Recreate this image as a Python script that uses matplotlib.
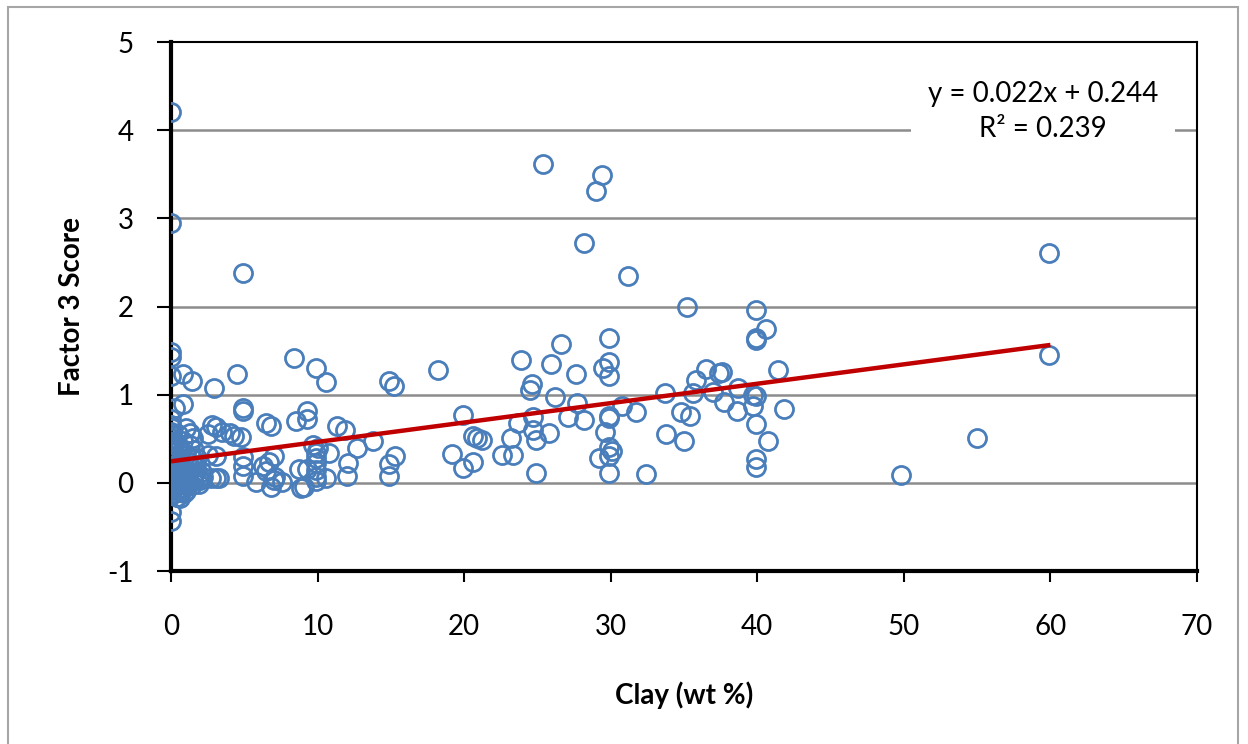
import matplotlib.pyplot as plt
from matplotlib.patches import Rectangle

plt.rcParams['font.family'] = ['Lato', 'DejaVu Sans']
plt.rcParams['axes.unicode_minus'] = False

# clay content (wt %) and factor 3 score for each sample
clay_wt = [
    # samples with little or no clay
    0.0, 0.0, 0.0, 0.0, 0.0, 0.8, 1.4, 2.9, 4.5, 4.9,
    0.3, 0.8, 0.0, 0.0, 0.0, 0.0, 0.0, 0.0, 0.0, 0.0,
    0.0, 0.0, 0.0, 0.0, 0.0, 0.0, 0.0, 0.0, 0.1, 0.1,
    0.1, 1.0, 1.3, 1.5, 1.3, 1.6, 0.5, 0.6, 0.4, 0.7,
    0.3, 0.9, 1.2, 0.5, 0.8, 1.5, 1.9, 0.4, 0.6, 0.9,
    0.3, 1.1, 1.7, 2.1, 1.4, 0.2, 0.6, 1.0, 0.2, 1.8,
    2.2, 2.7, 3.1, 3.3, 0.4, 0.6, 0.2, 0.5, 1.0, 0.7,
    0.2, 0.4, 0.7, 1.1, 1.3, 1.6, 1.9, 0.9, 1.2, 0.3,
    0.5, 0.8, 1.4, 1.7, 2.0, 0.1, 0.6, 1.0, 0.4, 0.2,
    # 2 - 16 wt %
    2.8, 3.1, 3.5, 4.0, 4.3, 4.8, 2.5, 2.5, 3.1, 4.9,
    4.9, 4.9, 4.9, 4.9, 6.5, 6.8, 8.5, 9.3, 9.3, 11.3,
    11.9, 6.3, 6.5, 7.0, 6.8, 7.6, 7.0, 6.7, 8.7, 9.3,
    8.9, 9.1, 9.7, 10.0, 9.9, 9.9, 9.9, 9.9, 9.9, 9.9,
    10.6, 10.8, 12.1, 12.0, 12.7, 13.8, 8.4, 9.9, 10.6, 14.9,
    15.2, 15.3, 14.9, 14.9, 7.1, 5.8,
    # 18 - 34 wt %
    18.2, 19.2, 19.9, 19.9, 20.6, 20.6, 20.9, 21.2, 22.6, 23.3,
    23.2, 23.7, 23.9, 24.6, 24.5, 24.7, 24.7, 24.9, 25.8, 24.9,
    25.4, 25.9, 26.2, 26.6, 27.1, 27.6, 27.7, 28.2, 28.2, 29.0,
    29.4, 29.2, 29.5, 29.6, 29.9, 29.9, 29.9, 29.9, 29.9, 29.9,
    30.1, 29.9, 29.9, 30.8, 31.2, 31.7, 32.4, 33.7, 33.8,
    # 34 wt % and above
    34.8, 35.2, 35.4, 35.0, 35.6, 35.8, 36.5, 37.0, 37.4, 37.6,
    37.7, 38.6, 38.7, 39.7, 39.7, 39.9, 39.9, 39.9, 39.9, 39.9,
    39.9, 39.9, 40.6, 40.7, 41.4, 41.8, 49.8, 55.0, 59.9, 59.9,
]

factor3_score = [
    4.21, 2.95, 1.48, 1.43, 1.21, 1.23, 1.16, 1.08, 1.23, 2.38,
    0.85, 0.89, 0.72, 0.66, 0.58, 0.51, 0.44, 0.38, 0.31, 0.24,
    0.17, 0.11, 0.05, -0.02, -0.08, -0.14, -0.33, -0.43, 0.62, 0.46,
    0.12, 0.62, 0.57, 0.51, 0.43, 0.37, 0.55, 0.40, 0.30, 0.22,
    0.18, 0.15, 0.10, 0.08, 0.04, 0.02, 0.05, -0.04, -0.10, -0.06,
    -0.12, 0.25, 0.20, 0.12, -0.02, 0.03, 0.14, 0.32, 0.35, 0.28,
    0.07, 0.06, 0.06, 0.06, -0.16, -0.17, -0.05, 0.00, 0.00, 0.09,
    0.26, 0.20, 0.13, 0.05, 0.19, 0.09, -0.01, -0.12, 0.01, 0.48,
    0.42, 0.47, 0.28, 0.12, 0.03, 0.55, 0.26, -0.09, 0.14, 0.09,
    0.66, 0.63, 0.58, 0.57, 0.53, 0.52, 0.55, 0.32, 0.30, 0.85,
    0.82, 0.29, 0.19, 0.08, 0.68, 0.65, 0.70, 0.81, 0.72, 0.64,
    0.60, 0.19, 0.13, 0.03, -0.05, 0.01, 0.30, 0.24, 0.16, 0.16,
    -0.06, -0.05, 0.43, 0.40, 0.34, 0.28, 0.23, 0.15, 0.07, 0.02,
    0.06, 0.34, 0.23, 0.08, 0.40, 0.47, 1.42, 1.30, 1.14, 1.16,
    1.10, 0.30, 0.21, 0.08, 0.07, 0.01,
    1.28, 0.33, 0.77, 0.17, 0.24, 0.53, 0.51, 0.49, 0.32, 0.32,
    0.51, 0.68, 1.39, 1.12, 1.05, 0.75, 0.60, 0.49, 0.57, 0.11,
    3.62, 1.35, 0.97, 1.57, 0.75, 1.24, 0.91, 0.71, 2.72, 3.31,
    3.49, 0.28, 1.30, 0.58, 1.64, 1.37, 1.21, 0.76, 0.74, 0.41,
    0.36, 0.31, 0.11, 0.87, 2.35, 0.80, 0.10, 1.02, 0.55,
    0.80, 1.99, 0.76, 0.48, 1.02, 1.17, 1.29, 1.03, 1.25, 1.26,
    0.92, 0.81, 1.08, 1.00, 0.87, 0.98, 1.96, 1.64, 1.62, 0.67,
    0.27, 0.18, 1.75, 0.48, 1.28, 0.84, 0.09, 0.51, 2.61, 1.45,
]

# linear trendline
slope = 0.022
intercept = 0.244
r_squared = 0.239
fit_x = [0, 60]

x_ticks = [0, 10, 20, 30, 40, 50, 60, 70]
y_ticks = [-1, 0, 1, 2, 3, 4, 5]

fig = plt.figure(figsize=(12.48, 7.44), dpi=100)
ax = fig.add_axes([171 / 1248, 1 - 571 / 744, (1197 - 171) / 1248, (571 - 42) / 744])

# outer chart border
fig.patches.append(Rectangle((8 / 1248, -0.05), (1238 - 8) / 1248, 1.05 - 7 / 744,
                             transform=fig.transFigure, fill=False,
                             edgecolor='#A6A6A6', linewidth=1.5))

for y in y_ticks[1:-1]:
    ax.axhline(y, color='#8C8C8C', linewidth=1.8, zorder=1)

ax.plot(clay_wt, factor3_score, linestyle='none', marker='o', markersize=13,
        markerfacecolor='none', markeredgecolor='#4A7EBB', markeredgewidth=2.0, zorder=3)

fit_y = [slope * x + intercept for x in fit_x]
ax.plot(fit_x, fit_y, color='#C00000', linewidth=3.2, zorder=4, solid_capstyle='butt')

ax.set_xlim(0, 70)
ax.set_ylim(-1, 5)
ax.set_xticks(x_ticks)
ax.set_yticks(y_ticks)
ax.tick_params(axis='both', direction='out', labelsize=20, colors='black', width=1.5)
ax.tick_params(axis='x', length=8, pad=23)
ax.tick_params(axis='y', length=10, pad=17)

ax.spines['left'].set_linewidth(3)
ax.spines['bottom'].set_linewidth(3)
ax.spines['top'].set_linewidth(1.5)
ax.spines['right'].set_linewidth(1.5)

ax.set_xlabel('Clay (wt %)', fontsize=20, fontweight='bold', labelpad=30)
ax.set_ylabel('Factor 3 Score', fontsize=20, fontweight='bold', labelpad=16)

ax.text(59.5, 4.21, f'y = {slope:.3f}x + {intercept:.3f}\nR\u00b2 = {r_squared:.3f}',
        fontsize=20, ha='center', va='center', linespacing=1.45,
        bbox=dict(facecolor='white', edgecolor='none', pad=12), zorder=5)

fig.savefig('out.png', dpi=100)
